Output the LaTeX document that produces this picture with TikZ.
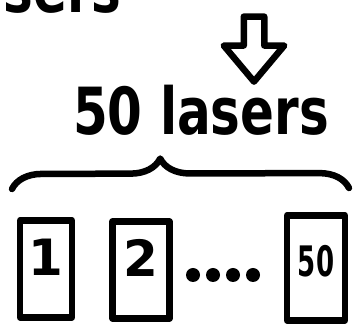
\documentclass[tikz,border=0pt]{standalone}
\usepackage{fontspec}
\setmainfont{DejaVu Sans}
\usetikzlibrary{positioning,shapes.arrows,decorations.pathreplacing}

\begin{document}
\begin{tikzpicture}[x=1pt, y=1pt, line width=6.5pt, line join=round, line cap=round,
  hand/.style={font=\bfseries\fontsize{50}{50}\selectfont, yscale=1.3, transform shape, inner sep=0pt},
  lbox/.style={draw, minimum width=52pt, minimum height=97pt, inner sep=0pt, text depth=24pt, font=\bfseries\fontsize{50}{50}\selectfont}]
\useasboundingbox (0,0) rectangle (353,331);
\node[hand, anchor=base east] (prev) at (125,318) {lasers};
\node[single arrow, draw, shape border rotate=270, minimum height=65pt, inner sep=7pt,
  single arrow head extend=20pt, single arrow tip angle=80] (arr) at (254,288) {};
\node[hand, anchor=base] (count) at (201,196) {50 lasers};
% brace over the row of lasers
\draw[decorate, decoration={brace, amplitude=30pt, aspect=0.44}] (12,142) -- (349,143);
\node[lbox] (b1) at (46,62) {1};
\node[lbox, minimum width=57pt] (b2) at (141,61) {2};
\node[lbox, minimum width=58pt, minimum height=105pt, text depth=14pt, font=\bfseries\fontsize{42}{42}\selectfont] (b50) at (316,63) {\scalebox{0.62}[1]{50}};
\foreach \x in {193,213,233,253} \fill (\x,56) circle (7pt);
\end{tikzpicture}
\end{document}
